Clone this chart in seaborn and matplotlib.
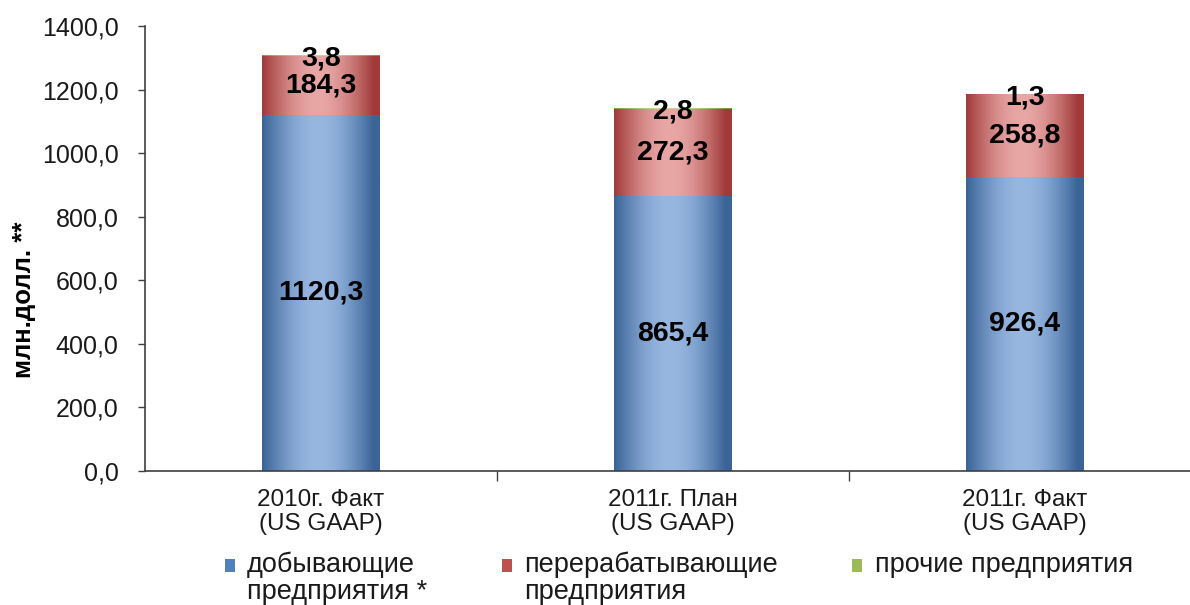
import numpy as np
import pandas as pd
import matplotlib
matplotlib.use("Agg")
import matplotlib.pyplot as plt
import seaborn as sns
from matplotlib.patches import Patch
from matplotlib.colors import to_rgb

# ---- data ----
categories = ["2010г. Факт\n(US GAAP)", "2011г. План\n(US GAAP)", "2011г. Факт\n(US GAAP)"]
mining = [1120.3, 865.4, 926.4]
processing = [184.3, 272.3, 258.8]
other = [3.8, 2.8, 1.3]
series_names = ["добывающие\nпредприятия *", "перерабатывающие\nпредприятия", "прочие предприятия"]
y_ticks = [0, 200, 400, 600, 800, 1000, 1200, 1400]
y_label = "млн.долл. **"

def fmt(v):
    return f"{v:.1f}".replace(".", ",")

sns.set_theme(style="white")
plt.rcParams["font.family"] = ["Liberation Sans", "DejaVu Sans"]

fig = plt.figure(figsize=(11.9, 6.05), dpi=100)
ax = fig.add_axes([145 / 1190, 1 - 471 / 605, 1045 / 1190, 445 / 605])

edge_cols = ["#3a6397", "#a03a39", "#7f9c45"]
mid_cols = ["#97b7e1", "#e8a6a5", "#c4d99a"]
flat_cols = ["#4f81bd", "#c0504d", "#9bbb59"]

bottoms1 = list(mining)
bottoms2 = [a + b for a, b in zip(mining, processing)]

layers = [(mining, None), (processing, bottoms1), (other, bottoms2)]
layer_patches = []
for k, (vals, bot) in enumerate(layers):
    n_before = len(ax.patches)
    kw = {} if bot is None else {"bottom": bot}
    sns.barplot(x=categories, y=vals, ax=ax, color=flat_cols[k], saturation=1,
                width=0.333, order=categories, linewidth=0, **kw)
    layer_patches.append(list(ax.patches[n_before:]))

# horizontal gradient fill clipped to each bar
t = np.linspace(0, 1, 200)
prof = np.sin(np.pi * np.clip(t / 0.95, 0, 1))
for k, patches in enumerate(layer_patches):
    e = np.array(to_rgb(edge_cols[k]))
    m = np.array(to_rgb(mid_cols[k]))
    grad = e[None, :] + (m - e)[None, :] * prof[:, None]
    img = grad[None, :, :]
    for p in patches:
        x0, y0 = p.get_x(), p.get_y()
        w, h = p.get_width(), p.get_height()
        im = ax.imshow(img, extent=[x0, x0 + w, y0, y0 + h], aspect="auto",
                       origin="lower", zorder=p.get_zorder() + 0.1, interpolation="bilinear")
        im.set_clip_path(p)
ax.set_xlim(-0.5, -0.5 + 1045 / 352)
ax.set_ylim(0, 1400)

# value labels
lab_kw = dict(ha="center", va="center", fontsize=20.5, fontweight="bold", color="black", zorder=10)
for i in range(3):
    ax.text(i, mining[i] / 2, fmt(mining[i]), **lab_kw)
    ax.text(i, mining[i] + processing[i] / 2, fmt(processing[i]), **lab_kw)
    ax.text(i, bottoms2[i] + other[i] - 10, fmt(other[i]), **lab_kw)

# axes styling
for s in ["top", "right"]:
    ax.spines[s].set_visible(False)
for s in ["left", "bottom"]:
    ax.spines[s].set_color("#404040")
    ax.spines[s].set_linewidth(1.2)

ax.set_yticks(y_ticks)
ax.set_yticklabels([fmt(v) for v in y_ticks], fontsize=18, color="#1a1a1a")
ax.tick_params(axis="y", direction="out", length=5, width=1, color="#404040", pad=14, left=True)
ax.set_xticks(range(3))
ax.set_xticklabels(categories, fontsize=17.5, color="#1a1a1a", linespacing=1.1)
ax.tick_params(axis="x", which="major", length=0, pad=13)
ax.set_xticks([0.5, 1.5], minor=True)
ax.tick_params(axis="x", which="minor", direction="out", length=7, width=1, color="#404040", bottom=True)
ax.set_xlabel("")
ax.set_ylabel(y_label, fontsize=18.5, fontweight="bold", color="black")
ax.yaxis.set_label_coords(-0.104, 0.384)
ax.grid(False)

handles = [Patch(facecolor=c, edgecolor="none") for c in flat_cols]
leg_labels = [s if "\n" in s else s + "\n" for s in series_names]
leg = fig.legend(handles, leg_labels, loc="upper left", bbox_to_anchor=(225 / 1190, 1 - 552 / 605),
                 ncol=3, frameon=False, fontsize=19.5, handlelength=0.37, handleheight=0.37,
                 handletextpad=0.45, columnspacing=2.75, borderpad=0, borderaxespad=0,
                 labelspacing=0.2)
for txt in leg.get_texts():
    txt.set_linespacing(1.05)
    txt.set_color("#1a1a1a")
for h in leg.legend_handles:
    h.set_y(h.get_y() + 9.6)

fig.savefig("out.png", dpi=100)
